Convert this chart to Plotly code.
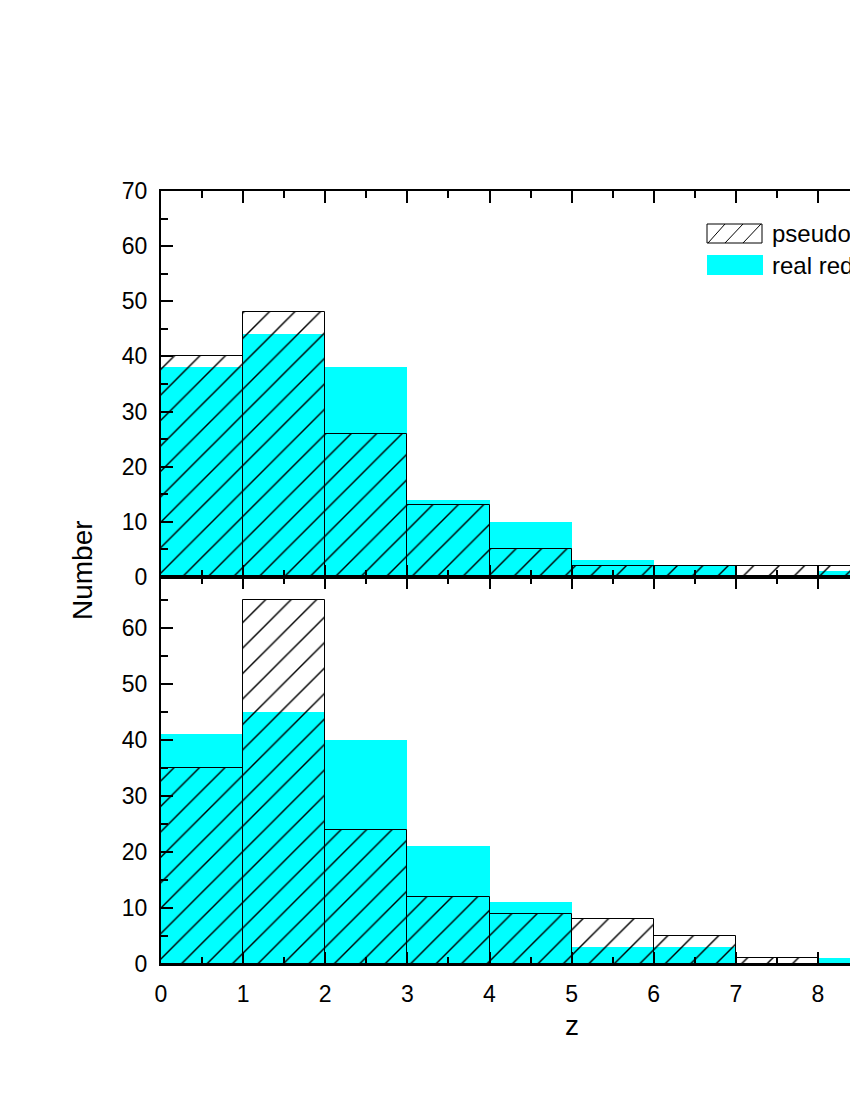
import plotly.graph_objects as go

# bin centres (bins of width 1 in z)
z_centers = [0.5, 1.5, 2.5, 3.5, 4.5, 5.5, 6.5, 7.5, 8.5]

# top panel
top_real = [38, 44, 38, 14, 10, 3, 2, 0, 1]
top_pseudo = [40, 48, 26, 13, 5, 2, 2, 2, 2]

# bottom panel
bot_real = [41, 45, 40, 21, 11, 3, 3, 0, 1]
bot_pseudo = [35, 65, 24, 12, 9, 8, 5, 1, 0]

legend_labels = ["pseudo redshift", "real redshift"]

CYAN = "#00FFFF"
FONT = "Liberation Sans, Arial, sans-serif"

# body margin is removed (post_script), so figure pixels = page pixels
W, H = 850, 1090
L, R, T, B = 161, 0, 191, 126
PW, PH = W - L - R, H - T - B
X0P, Y0P = L, T + PH   # page pixel of plot-area left / bottom


def px(x):
    return (x - X0P) / PW


def py(y):
    return (Y0P - y) / PH


fig = go.Figure()

hatch = dict(shape="/", fgcolor="black", bgcolor="rgba(0,0,0,0)", size=18,
             solidity=0.08, fillmode="replace")

for real, pseudo, xa, ya in [(top_real, top_pseudo, "x", "y"),
                              (bot_real, bot_pseudo, "x2", "y2")]:
    fig.add_trace(go.Bar(x=z_centers, y=real, width=1, xaxis=xa, yaxis=ya,
                         marker=dict(color=CYAN, line=dict(width=0)),
                         showlegend=False, hoverinfo="skip"))
    fig.add_trace(go.Bar(x=z_centers, y=pseudo, width=1, xaxis=xa, yaxis=ya,
                         marker=dict(color="rgba(0,0,0,0)", pattern=hatch,
                                     line=dict(color="black", width=1)),
                         showlegend=False, hoverinfo="skip"))

split = (964 - 577) / PH
xr = [0, (850 - 161) / 82.125]

common_x = dict(range=xr, showline=True, linewidth=2, linecolor="black",
                ticks="inside", ticklen=12, tickwidth=2, tickcolor="black",
                dtick=1, tick0=0, mirror="ticks", showgrid=False, zeroline=False,
                minor=dict(ticks="inside", ticklen=7, tickwidth=2,
                           tickcolor="black", dtick=0.5, tick0=0))
common_y = dict(showline=True, linewidth=2, linecolor="black",
                ticks="inside", ticklen=12, tickwidth=2, tickcolor="black",
                dtick=10, tick0=0, showgrid=False, zeroline=False, mirror=False,
                ticklabelstandoff=7,
                tickfont=dict(family=FONT, size=23, color="black"),
                minor=dict(ticks="inside", ticklen=7, tickwidth=2,
                           tickcolor="black", dtick=5, tick0=0))

fig.update_layout(
    width=W, height=H,
    margin=dict(l=L, r=R, t=T, b=B),
    paper_bgcolor="white", plot_bgcolor="white",
    barmode="overlay", bargap=0,
    font=dict(family=FONT, color="black"),
    xaxis=dict(anchor="y", domain=[0, 1], showticklabels=False, **common_x),
    yaxis=dict(anchor="x", domain=[split, 1], range=[0, 70], **common_y),
    xaxis2=dict(anchor="y2", domain=[0, 1], showticklabels=True,
                ticklabelstandoff=8,
                tickfont=dict(family=FONT, size=23, color="black"), **common_x),
    yaxis2=dict(anchor="x2", domain=[0, split], range=[0, 387 / 5.6],
                **common_y),
)

# legend (drawn as swatches + text)
shapes = [
    dict(type="rect", xref="paper", yref="paper",
         x0=px(707), x1=px(762), y0=py(243), y1=py(224),
         line=dict(color="black", width=1), fillcolor="rgba(0,0,0,0)"),
    dict(type="rect", xref="paper", yref="paper",
         x0=px(707), x1=px(763), y0=py(275), y1=py(255),
         line=dict(width=0), fillcolor=CYAN),
]
for xb, xt in [(708, 725), (725, 743), (743, 761)]:
    shapes.append(dict(type="line", xref="paper", yref="paper",
                       x0=px(xb), y0=py(243), x1=px(xt), y1=py(224),
                       line=dict(color="black", width=1)))
fig.update_layout(shapes=shapes)

fig.add_annotation(x=px(770), y=py(234), xref="paper", yref="paper",
                   text=legend_labels[0], showarrow=False, xanchor="left",
                   yanchor="middle", font=dict(family=FONT, size=24))
fig.add_annotation(x=px(770), y=py(265), xref="paper", yref="paper",
                   text=legend_labels[1], showarrow=False, xanchor="left",
                   yanchor="middle", font=dict(family=FONT, size=24))

# axis titles
fig.add_annotation(x=px(82), y=py(570), xref="paper", yref="paper",
                   text="Number", showarrow=False, textangle=-90,
                   xanchor="center", yanchor="middle",
                   font=dict(family=FONT, size=28))
fig.add_annotation(x=px(572), y=py(1025), xref="paper", yref="paper",
                   text="z", showarrow=False, xanchor="center",
                   yanchor="middle", font=dict(family=FONT, size=28))

fig.write_html("out.html", config={"displayModeBar": False},
               post_script="document.body.style.margin='0px';")
